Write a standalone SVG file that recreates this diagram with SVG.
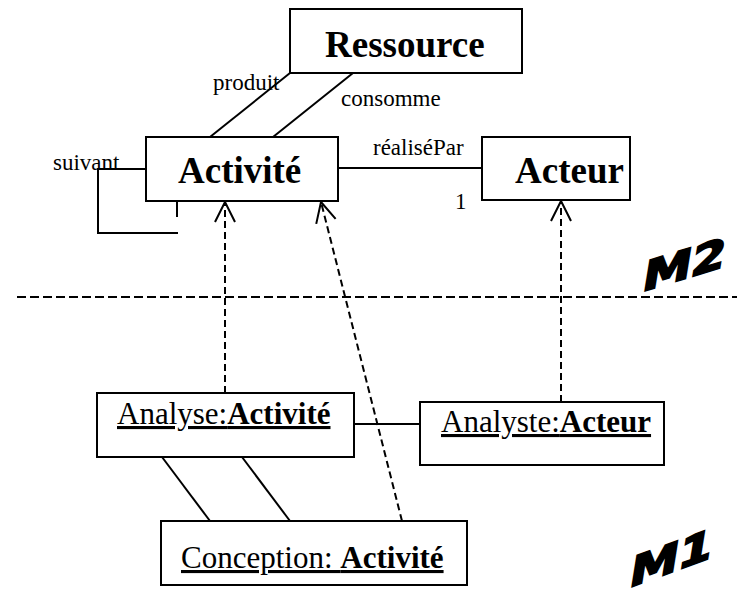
<svg xmlns="http://www.w3.org/2000/svg" width="737" height="601" viewBox="0 0 737 601">
  <style>
    .box { fill: #fff; stroke: #000; stroke-width: 2; }
    .line { fill: none; stroke: #000; stroke-width: 2; }
    .dep { fill: none; stroke: #000; stroke-width: 2; stroke-dasharray: 7 4; }
    .sep { fill: none; stroke: #000; stroke-width: 2; stroke-dasharray: 9 4; }
    .cls { font-family: "Liberation Serif", "Times New Roman", serif; font-weight: bold; font-size: 37px; fill: #000; }
    .lbl { font-family: "Liberation Serif", "Times New Roman", serif; font-size: 23px; fill: #000; }
    .obj { font-family: "Liberation Serif", "Times New Roman", serif; font-size: 31px; fill: #000; text-decoration: underline; }
    .obj .b { font-weight: bold; }
    .lvl { font-family: "DejaVu Sans", "Liberation Sans", sans-serif; font-weight: bold; font-size: 40px; fill: #000; stroke: #000; stroke-width: 2; }
  </style>
  <defs>
    <!-- open arrowhead for the instance-of dependencies -->
    <marker id="open" markerUnits="userSpaceOnUse" markerWidth="30" markerHeight="30" viewBox="-25 -15 30 30" refX="0" refY="0" orient="auto">
      <path d="M -20 -10 L 0 0 L -20 10" fill="none" stroke="#000" stroke-width="2"/>
    </marker>
  </defs>

  <!-- level separator -->
  <line class="sep" x1="17" y1="297" x2="737" y2="297"/>

  <!-- connectors -->
  <g id="connectors">
    <line class="line" x1="290" y1="73" x2="210" y2="137"/>
    <line class="line" x1="353" y1="73" x2="273" y2="137"/>
    <line class="line" x1="338" y1="168" x2="482" y2="168"/>
    <polyline class="line" points="146,169 98,169 98,233 178,233"/>
    <line class="line" x1="177" y1="201" x2="177" y2="217"/>
    <line class="line" x1="354" y1="424" x2="420" y2="424"/>
    <line class="line" x1="162" y1="457" x2="210" y2="521"/>
    <line class="line" x1="242" y1="457" x2="290" y2="521"/>
    <line class="dep" x1="225" y1="393" x2="225" y2="202" marker-end="url(#open)"/>
    <line class="dep" x1="561" y1="402" x2="561" y2="201" marker-end="url(#open)"/>
    <line class="dep" x1="402" y1="521" x2="321" y2="202" marker-end="url(#open)"/>
  </g>

  <!-- association labels -->
  <g id="labels">
    <text class="lbl" x="213" y="90">produit</text>
    <text class="lbl" x="341" y="106">consomme</text>
    <text class="lbl" x="53" y="170">suivant</text>
    <text class="lbl" x="373" y="155">réaliséPar</text>
    <text class="lbl" x="455" y="209">1</text>
  </g>

  <!-- M2 classes -->
  <g id="ressource">
    <rect class="box" x="290" y="9" width="232" height="64"/>
    <text class="cls" x="325" y="57">Ressource</text>
  </g>
  <g id="activite">
    <rect class="box" x="146" y="137" width="192" height="64"/>
    <text class="cls" x="178" y="183">Activité</text>
  </g>
  <g id="acteur">
    <rect class="box" x="482" y="137" width="148" height="63"/>
    <text class="cls" x="515" y="183">Acteur</text>
  </g>

  <!-- M1 instances -->
  <g id="analyse">
    <rect class="box" x="97" y="393" width="257" height="64"/>
    <text class="obj" x="117" y="424">Analyse:<tspan class="b">Activité</tspan></text>
  </g>
  <g id="analyste">
    <rect class="box" x="420" y="402" width="244" height="63"/>
    <text class="obj" x="441" y="432">Analyste:<tspan class="b">Acteur</tspan></text>
  </g>
  <g id="conception">
    <rect class="box" x="161" y="521" width="306" height="64"/>
    <text class="obj" x="181" y="568">Conception: <tspan class="b">Activité</tspan></text>
  </g>

  <!-- level tags -->
  <g id="level-m2">
    <text class="lvl" transform="translate(641,292) skewY(-17) scale(1.22,1) skewX(-8)">M2</text>
  </g>
  <g id="level-m1">
    <text class="lvl" transform="translate(628,588) skewY(-20) scale(1.22,1) skewX(-8)">M1</text>
  </g>
</svg>
